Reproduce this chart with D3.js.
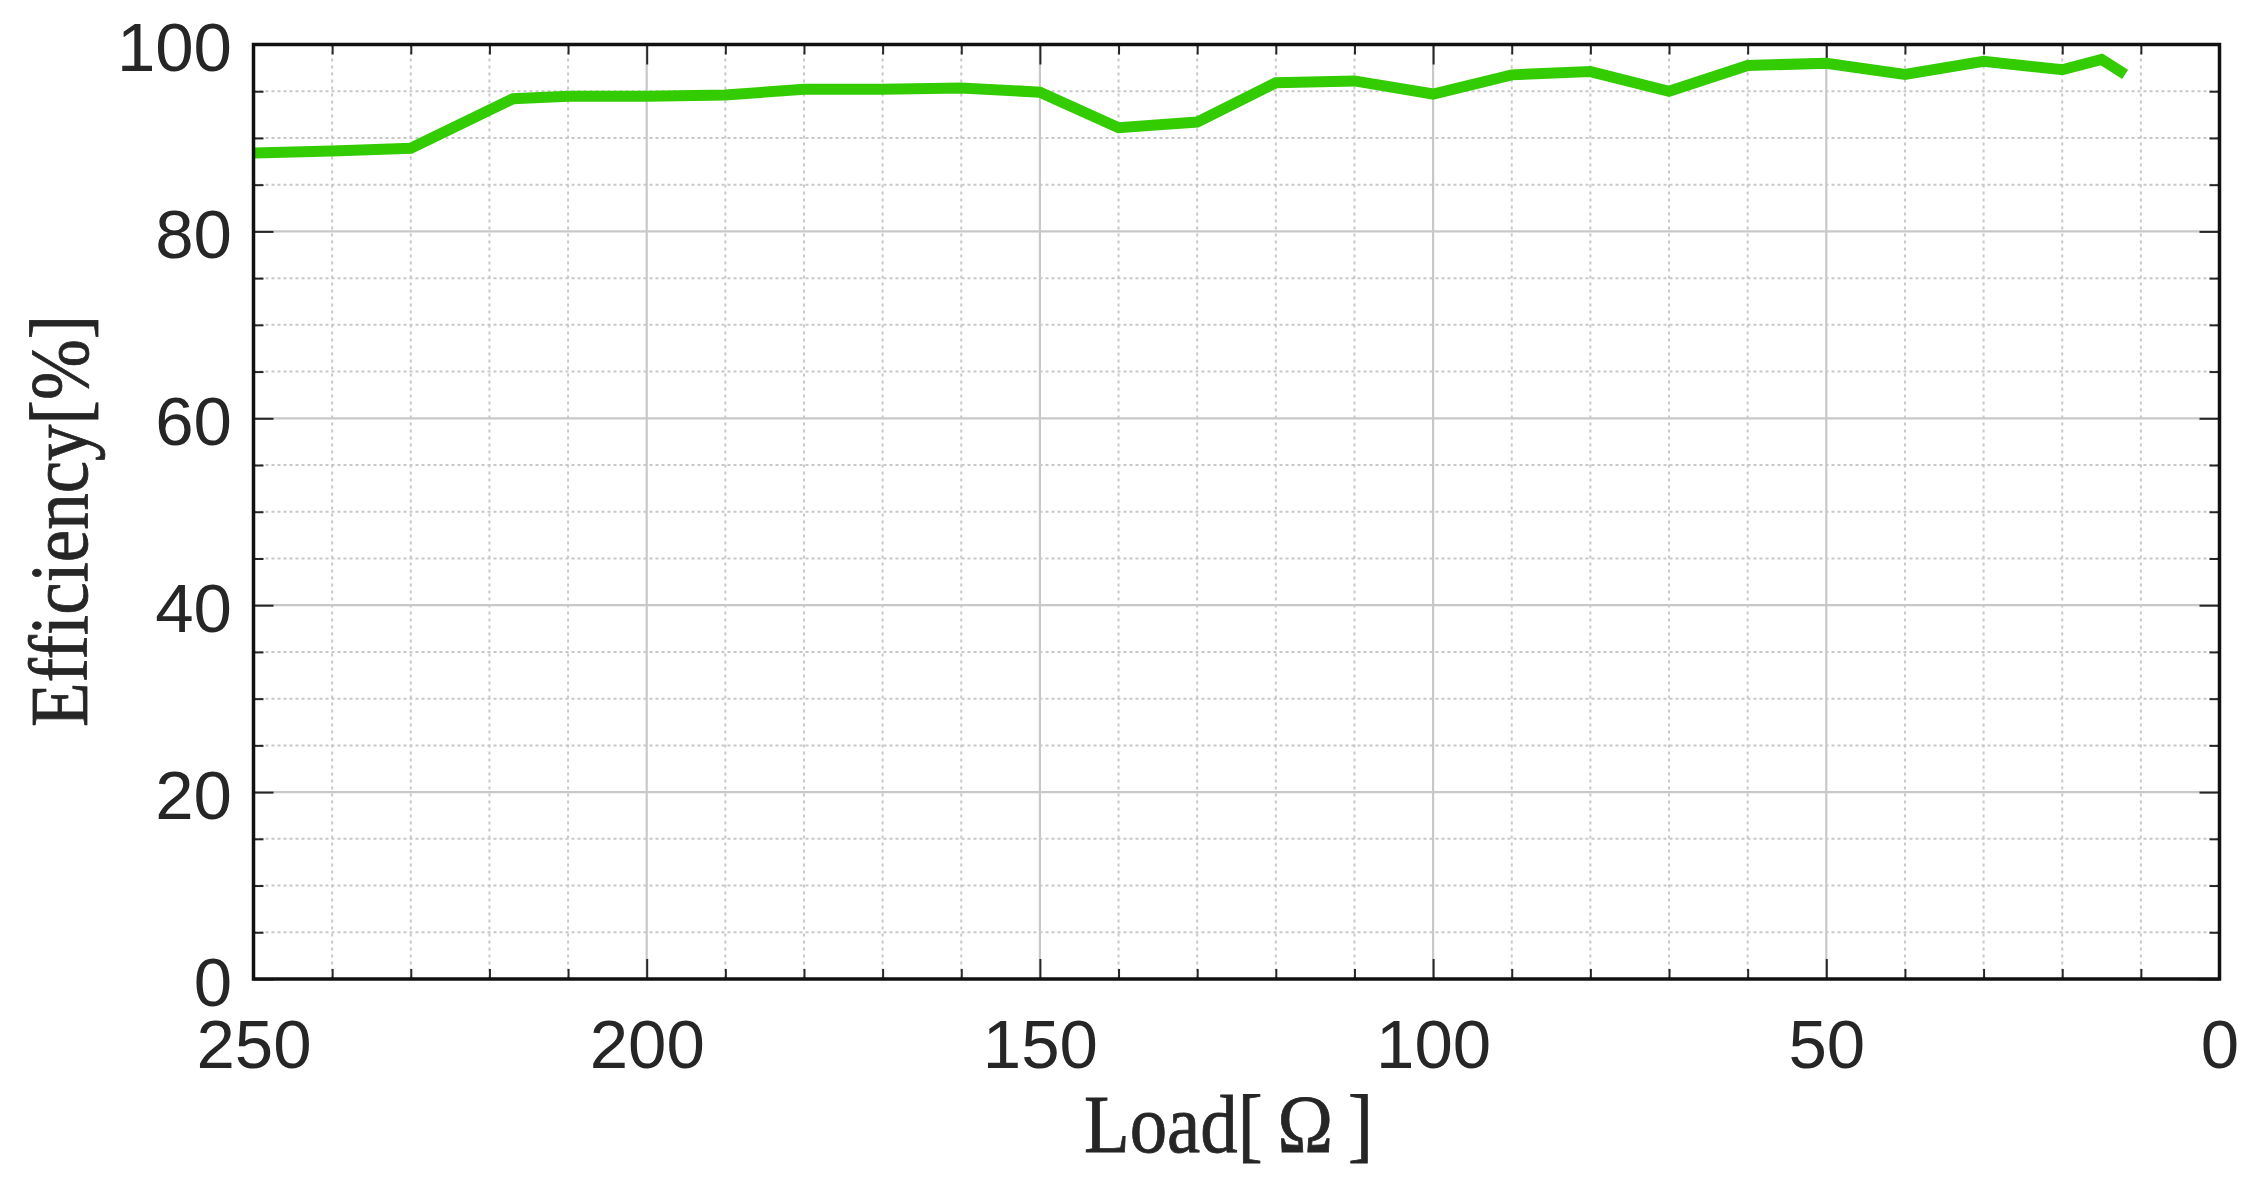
<!DOCTYPE html>
<html>
<head>
<meta charset="utf-8">
<script src="https://cdn.jsdelivr.net/npm/d3@7"></script>
<style>
  html, body { margin: 0; padding: 0; background: #fff; }
  svg { display: block; }
  .tick-label text { font-family: "Liberation Sans", Arial, sans-serif; font-size: 69px; fill: #262626; }
  .axis-title { font-family: "Liberation Serif", "Times New Roman", serif; font-size: 82px; fill: #262626;
    stroke: #262626; stroke-width: 0.8px; }
</style>
</head>
<body>
<svg id="chart" width="2260" height="1198"></svg>
<script>
'use strict';

// load [ohm] and measured efficiency [%]
var load = [250, 240, 230, 217, 210, 200, 190, 180, 170, 160, 150, 140, 130,
  120, 110, 100, 90, 80, 70, 60, 50, 40, 30, 20, 15, 12];
var efficiency = [88.4, 88.6, 88.9, 94.2, 94.45, 94.45, 94.6, 95.2, 95.2, 95.35, 94.9, 91.1, 91.7,
  95.9, 96.1, 94.7, 96.75, 97.1, 95.0, 97.75, 98.0, 96.8, 98.2, 97.3, 98.4, 96.8];

var xTicks = [250, 200, 150, 100, 50, 0];
var xMinor = d3.range(0, 251, 10);
var yTicks = [0, 20, 40, 60, 80, 100];
var yMinor = d3.range(0, 101, 5);

var svg = d3.select('#chart'),
  box = {left: 253.5, right: 2219.5, top: 44.5, bottom: 979};

var x = d3.scaleLinear().domain([250, 0]).range([box.left, box.right]);
var y = d3.scaleLinear().domain([0, 100]).range([box.bottom, box.top]);

var minorX = xMinor.filter(function (d) { return xTicks.indexOf(d) < 0; });
var minorY = yMinor.filter(function (d) { return yTicks.indexOf(d) < 0; });

// minor grid, dotted
var grid = svg.append('g').attr('class', 'grid');
grid.selectAll('.gx-minor')
  .data(minorX)
  .enter().append('line')
  .attr('x1', x).attr('x2', x)
  .attr('y1', box.top).attr('y2', box.bottom)
  .attr('stroke', '#c8c8c8').attr('stroke-width', 2)
  .attr('stroke-dasharray', '3,4');
grid.selectAll('.gy-minor')
  .data(minorY)
  .enter().append('line')
  .attr('y1', y).attr('y2', y)
  .attr('x1', box.left).attr('x2', box.right)
  .attr('stroke', '#c8c8c8').attr('stroke-width', 2)
  .attr('stroke-dasharray', '3,3');

// major grid, solid
grid.selectAll('.gx-major')
  .data(xTicks)
  .enter().append('line')
  .attr('x1', x).attr('x2', x)
  .attr('y1', box.top).attr('y2', box.bottom)
  .attr('stroke', '#c8c8c8').attr('stroke-width', 2.2);
grid.selectAll('.gy-major')
  .data(yTicks)
  .enter().append('line')
  .attr('y1', y).attr('y2', y)
  .attr('x1', box.left).attr('x2', box.right)
  .attr('stroke', '#c8c8c8').attr('stroke-width', 2.2);

// tick marks on all four sides, pointing inward
function tickAxis(gen, scale, values, size, tx, ty) {
  var g = svg.append('g')
    .attr('transform', 'translate(' + tx + ',' + ty + ')')
    .call(gen(scale).tickValues(values).tickSize(size).tickFormat(''));
  g.select('.domain').remove();
  g.selectAll('line').attr('stroke', '#262626').attr('stroke-width', 2);
}
tickAxis(d3.axisBottom, x, xTicks, -20, 0, box.bottom);
tickAxis(d3.axisBottom, x, minorX, -10, 0, box.bottom);
tickAxis(d3.axisTop, x, xTicks, -20, 0, box.top);
tickAxis(d3.axisTop, x, minorX, -10, 0, box.top);
tickAxis(d3.axisLeft, y, yTicks, -20, box.left, 0);
tickAxis(d3.axisLeft, y, minorY, -10, box.left, 0);
tickAxis(d3.axisRight, y, yTicks, -20, box.right, 0);
tickAxis(d3.axisRight, y, minorY, -10, box.right, 0);

// the efficiency curve
var line = d3.line()
  .x(function (d, i) { return x(load[i]); })
  .y(function (d) { return y(d); });

svg.append('path')
  .datum(efficiency)
  .attr('d', line)
  .attr('fill', 'none')
  .attr('stroke', '#33cc00')
  .attr('stroke-width', 11)
  .attr('stroke-linejoin', 'miter')
  .attr('stroke-linecap', 'butt');

// frame
svg.append('rect')
  .attr('x', box.left).attr('y', box.top)
  .attr('width', box.right - box.left).attr('height', box.bottom - box.top)
  .attr('fill', 'none')
  .attr('stroke', '#111')
  .attr('stroke-width', 3.5);

// tick labels
var xAxis = svg.append('g')
  .attr('class', 'tick-label')
  .attr('transform', 'translate(0,' + box.bottom + ')')
  .call(d3.axisBottom(x).tickValues(xTicks).tickSize(0));
xAxis.select('.domain').remove();
xAxis.selectAll('text').attr('y', 89).attr('dy', null);

var yAxis = svg.append('g')
  .attr('class', 'tick-label')
  .attr('transform', 'translate(' + box.left + ',0)')
  .call(d3.axisLeft(y).tickValues(yTicks).tickSize(0));
yAxis.select('.domain').remove();
yAxis.selectAll('text').attr('x', -21.5).attr('y', 26).attr('dy', null);

// axis titles
svg.append('text')
  .attr('class', 'axis-title')
  .attr('x', 1228.5).attr('y', 1152)
  .attr('text-anchor', 'middle')
  .attr('textLength', 289)
  .attr('lengthAdjust', 'spacingAndGlyphs')
  .text('Load[\u2009\u03A9\u2009]');

svg.append('text')
  .attr('class', 'axis-title')
  .attr('transform', 'translate(87,521) rotate(-90)')
  .attr('text-anchor', 'middle')
  .attr('textLength', 412)
  .attr('lengthAdjust', 'spacingAndGlyphs')
  .text('Efficiency[%]');
</script>
</body>
</html>
